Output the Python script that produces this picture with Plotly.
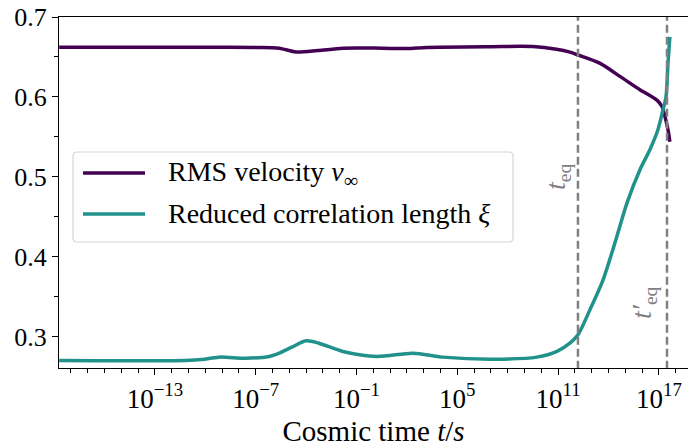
import numpy as np
import plotly.graph_objects as go

# --- data (log10 of cosmic time in seconds) ---
v_log_t = [-18.7, -11.0, -7.0, -5.6, -4.6, -3.3, -1.8, 0.5, 2.0, 3.2, 7.0, 9.5,
           10.9, 11.7, 12.18, 13.5, 14.7, 15.87, 16.88, 17.18, 17.36, 17.54, 17.65]
v_rms = [0.6621, 0.6621, 0.662, 0.661, 0.6562, 0.658, 0.661, 0.661, 0.6605, 0.662, 0.6629, 0.663,
         0.6596, 0.656, 0.6525, 0.642, 0.6254, 0.609, 0.596, 0.588, 0.5754, 0.559, 0.544]

xi_log_t = [-18.7, -11.2, -10.2, -9.2, -7.6, -6.2, -5.6, -4.85, -4.0, -3.24, -1.81, 0.21, 2.36,
            4.14, 7.12, 9.74, 10.93, 11.70, 12.18, 12.89, 13.67, 14.38, 15.10, 15.87,
            16.46, 16.94, 17.24, 17.42, 17.54, 17.65]
xi = [0.2704, 0.2704, 0.2715, 0.2746, 0.2733, 0.2755, 0.2796, 0.287, 0.295, 0.292, 0.2817, 0.2754, 0.2796,
      0.2746, 0.2721, 0.2746, 0.2817, 0.292, 0.3025, 0.3337, 0.371, 0.4175, 0.4675, 0.509,
      0.534, 0.559, 0.584, 0.600, 0.6425, 0.675]

log_t_eq = 12.18
log_t_eq_prime = 17.48

x_tick_exp = [-13, -7, -1, 5, 11, 17]
x_tick_text = ["10<sup>−13</sup>", "10<sup>−7</sup>", "10<sup>−1</sup>",
               "10<sup>5</sup>", "10<sup>11</sup>", "10<sup>17</sup>"]
y_ticks = [0.3, 0.4, 0.5, 0.6, 0.7]
y_minor = [0.35, 0.45, 0.55, 0.65]

names = ["RMS velocity <i>v</i><sub>∞</sub>", "Reduced correlation length <i>ξ</i>"]
colors = ["#440154", "#21918c"]

FONT = "Liberation Serif"
W, H = 688, 448
L, R, T, B = 59, 0, 17, 80
x_range = [-18.71, 18.73]
y_range = [0.261, 0.7]

fig = go.Figure()
fig.add_trace(go.Scatter(x=10.0 ** np.array(v_log_t), y=v_rms, mode="lines",
                         line=dict(color=colors[0], width=3.5, shape="spline", smoothing=0.8),
                         name=names[0], showlegend=False))
fig.add_trace(go.Scatter(x=10.0 ** np.array(xi_log_t), y=xi, mode="lines",
                         line=dict(color=colors[1], width=3.5, shape="spline", smoothing=0.8),
                         name=names[1], showlegend=False))

for lt in [log_t_eq, log_t_eq_prime]:
    fig.add_trace(go.Scatter(x=[10.0 ** lt, 10.0 ** lt], y=[0.2, 0.8], mode="lines",
                             line=dict(color="#808080", width=2.5, dash="8px,4px"),
                             showlegend=False, hoverinfo="skip"))

pw = W - L - R
ph = H - T - B


def px2paper(px, py):
    return (px - L) / pw, (H - B - py) / ph


annotations = []
shapes = []

# rotated labels for the equality times
for txt, (cx, cy) in [("<i>t</i><sub>eq</sub>", (557, 177)),
                      ("<i>t′</i><sub>eq</sub>", (643, 303))]:
    ax_, ay_ = px2paper(cx, cy)
    annotations.append(dict(text=txt, x=ax_, y=ay_, xref="paper", yref="paper",
                            xanchor="center", yanchor="middle", showarrow=False,
                            textangle=-90, font=dict(family=FONT, size=28, color="#808080")))

# manual legend
bx0, by0 = px2paper(73, 242)
bx1, by1 = px2paper(513, 152)
rx, ry = 4 / pw, 4 / ph
path = (f"M {bx0+rx},{by0} L {bx1-rx},{by0} Q {bx1},{by0} {bx1},{by0+ry} "
        f"L {bx1},{by1-ry} Q {bx1},{by1} {bx1-rx},{by1} L {bx0+rx},{by1} "
        f"Q {bx0},{by1} {bx0},{by1-ry} L {bx0},{by0+ry} Q {bx0},{by0} {bx0+rx},{by0} Z")
shapes.append(dict(type="path", path=path, xref="paper", yref="paper",
                   line=dict(color="#d6d6d6", width=1.2), fillcolor="rgba(255,255,255,0.8)",
                   layer="above"))
for i, py in enumerate([173, 214]):
    lx0, ly = px2paper(83, py)
    lx1, _ = px2paper(145, py)
    shapes.append(dict(type="line", xref="paper", yref="paper", x0=lx0, x1=lx1, y0=ly, y1=ly,
                       line=dict(color=colors[i], width=3.5), layer="above"))
    tx, _ = px2paper(166, py)
    annotations.append(dict(text=names[i], x=tx, y=ly, xref="paper", yref="paper",
                            xanchor="left", yanchor="middle", showarrow=False,
                            font=dict(family=FONT, size=28, color="black")))

fig.update_layout(
    width=W, height=H,
    margin=dict(l=L, r=R, t=T, b=B),
    paper_bgcolor="white", plot_bgcolor="white",
    font=dict(family=FONT, size=26, color="black"),
    annotations=annotations, shapes=shapes,
    showlegend=False,
)
fig.update_xaxes(
    type="log", range=x_range,
    tickvals=[10.0 ** e for e in x_tick_exp], ticktext=x_tick_text,
    ticks="outside", ticklen=6, tickwidth=1, tickcolor="black",
    minor=dict(tickvals=[10.0 ** k for k in range(-18, 19)], ticks="outside",
               ticklen=3.5, tickwidth=1, tickcolor="black"),
    showline=True, linecolor="black", linewidth=1.2, mirror=True,
    showgrid=False, zeroline=False,
    tickfont=dict(family=FONT, size=27),
    title=dict(text="Cosmic time <i>t</i>/<i>s</i>", font=dict(family=FONT, size=29), standoff=8),
)
fig.update_yaxes(
    range=y_range, tickvals=y_ticks, ticktext=[f"{v:.1f}" for v in y_ticks],
    ticks="outside", ticklen=6, tickwidth=1, tickcolor="black",
    minor=dict(tickvals=y_minor, ticks="outside", ticklen=3.5, tickwidth=1, tickcolor="black"),
    showline=True, linecolor="black", linewidth=1.2, mirror=False,
    showgrid=False, zeroline=False,
    tickfont=dict(family=FONT, size=26),
)

fig.write_html("out.html")
